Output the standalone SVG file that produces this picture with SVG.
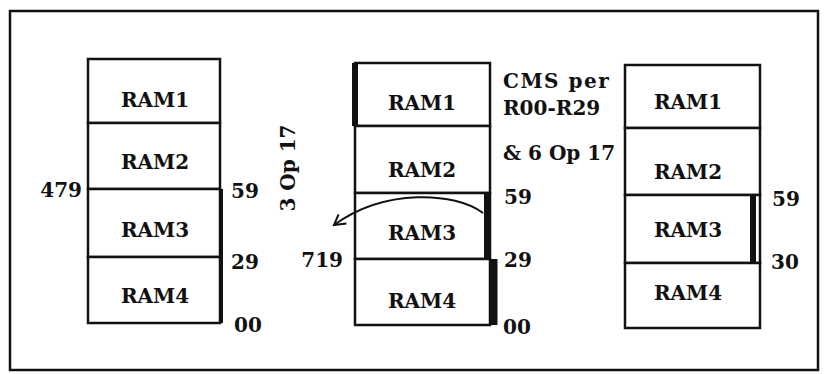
<svg xmlns="http://www.w3.org/2000/svg" width="824" height="374" viewBox="0 0 824 374">
<style>
.box{fill:#fff;stroke:#111;stroke-width:2.5}
.bar{fill:none;stroke:#111;stroke-width:6}
.t{font-family:"DejaVu Serif","Liberation Serif",serif;font-weight:bold;font-size:20px;fill:#111}
.c{text-anchor:middle;dominant-baseline:central}
.n{dominant-baseline:central}
.e{text-anchor:end;dominant-baseline:central}
</style>
<defs>
<marker id="arr" viewBox="0 0 14 14" refX="12" refY="7" markerWidth="14" markerHeight="14" markerUnits="userSpaceOnUse" orient="auto">
<path d="M1,1 L12,7 L2,13" fill="none" stroke="#111" stroke-width="2"/>
</marker>
</defs>
<rect x="10" y="11" width="808" height="359" fill="none" stroke="#111" stroke-width="2.5"/>
<g id="col1">
<rect class="box" x="88" y="59" width="132" height="64"/>
<rect class="box" x="88" y="123" width="132" height="66"/>
<rect class="box" x="88" y="189" width="132" height="68"/>
<rect class="box" x="88" y="257" width="132" height="66"/>
<line class="bar" x1="221" y1="189" x2="221" y2="323" style="stroke-width:4"/>
<text class="t c" x="155" y="100">RAM1</text>
<text class="t c" x="155" y="162">RAM2</text>
<text class="t c" x="155" y="230">RAM3</text>
<text class="t c" x="155" y="296">RAM4</text>
<text class="t e" x="82" y="190">479</text>
<text class="t n" x="231" y="191">59</text>
<text class="t n" x="231" y="262">29</text>
<text class="t n" x="234" y="325">00</text>
</g>
<g id="op3">
<text class="t c" transform="translate(288,168) rotate(-90)">3 Op 17</text>
</g>
<g id="col2">
<rect class="box" x="355" y="63" width="135" height="63"/>
<rect class="box" x="355" y="126" width="135" height="67"/>
<rect class="box" x="355" y="193" width="135" height="66"/>
<rect class="box" x="355" y="259" width="135" height="66"/>
<line class="bar" x1="355" y1="63" x2="355" y2="126"/>
<line class="bar" x1="487" y1="193" x2="487" y2="259"/>
<line class="bar" x1="494" y1="259" x2="494" y2="325" style="stroke-width:7"/>
<text class="t c" x="422" y="103">RAM1</text>
<text class="t c" x="422" y="170">RAM2</text>
<text class="t c" x="422" y="233">RAM3</text>
<text class="t c" x="422" y="301">RAM4</text>
<text class="t e" x="343" y="260">719</text>
<text class="t n" x="504" y="197">59</text>
<text class="t n" x="504" y="260">29</text>
<text class="t n" x="503" y="327">00</text>
<text class="t" x="503" y="88" style="letter-spacing:1.5px">CMS per</text>
<text class="t" x="503" y="115">R00-R29</text>
<text class="t" x="503" y="160">&amp; 6 Op 17</text>
</g>
<g id="col3">
<rect class="box" x="625" y="65" width="135" height="63"/>
<rect class="box" x="625" y="128" width="135" height="67"/>
<rect class="box" x="625" y="195" width="135" height="68"/>
<rect class="box" x="625" y="263" width="135" height="65"/>
<line class="bar" x1="753" y1="195" x2="753" y2="263"/>
<text class="t c" x="688" y="102">RAM1</text>
<text class="t c" x="688" y="172">RAM2</text>
<text class="t c" x="688" y="230">RAM3</text>
<text class="t c" x="688" y="293">RAM4</text>
<text class="t n" x="772" y="199">59</text>
<text class="t n" x="771" y="262">30</text>
</g>
<g id="connectors">
<path d="M483,213 C455,192 385,188 334,225" fill="none" stroke="#111" stroke-width="2" marker-end="url(#arr)"/>
</g>
</svg>
